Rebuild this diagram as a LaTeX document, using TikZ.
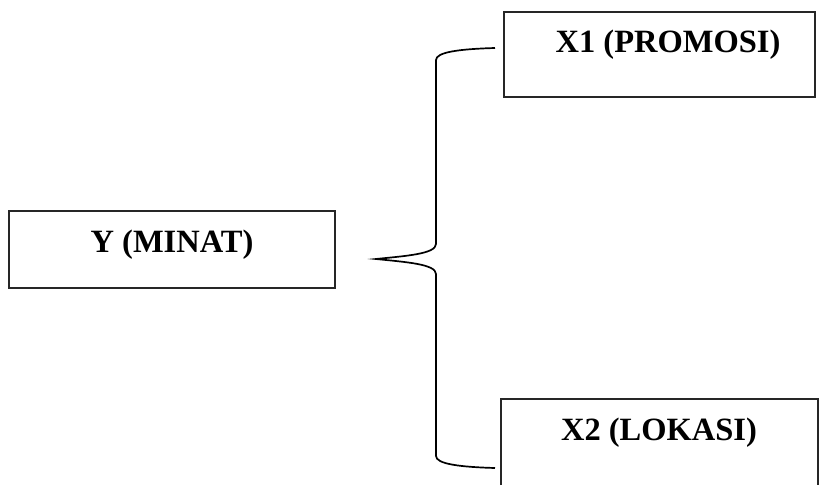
\documentclass[tikz,border=0pt]{standalone}
\usepackage{fontspec}
\setmainfont{Liberation Serif}
\begin{document}
\begin{tikzpicture}[x=1pt,y=-1pt,
  boxline/.style={draw=black!85, line width=1.3pt},
  lbl/.style={font=\fontsize{32.5}{39}\selectfont\bfseries, anchor=base, inner sep=0pt},
  bracepath/.style={draw=black, line width=1.7pt}]
\useasboundingbox (0,0) rectangle (819,485);
% boxes
\node[boxline, rectangle, minimum width=326pt, minimum height=77pt, inner sep=0pt] (ybox) at (172,249.5) {};
\node[lbl] (ytext) at (172,252) {Y (MINAT)};
\node[boxline, rectangle, minimum width=311pt, minimum height=85pt, inner sep=0pt] (xonebox) at (659.5,54.5) {};
\node[lbl] (xonetext) at (668,52) {X1 (PROMOSI)};
\coordinate (xtwobl) at (501,485);
\coordinate (xtwotl) at (501,399);
\coordinate (xtwotr) at (818,399);
\coordinate (xtwobr) at (818,485);
\draw[boxline] (xtwobl) -- (xtwotl) -- (xtwotr) -- (xtwobr);
\node[lbl] (xtwotext) at (659,440) {X2 (LOKASI)};
% brace
\coordinate (btop) at (495,48);
\coordinate (btip) at (376,259);
\coordinate (bbot) at (495,468);
\draw[bracepath] (btop) .. controls (460,49) and (436,52) .. (436,60)
  -- (436,244) .. controls (436,254) and (405,256) .. (btip)
  .. controls (405,262) and (436,264) .. (436,274)
  -- (436,456) .. controls (436,464) and (460,467) .. (bbot);
\end{tikzpicture}
\end{document}
